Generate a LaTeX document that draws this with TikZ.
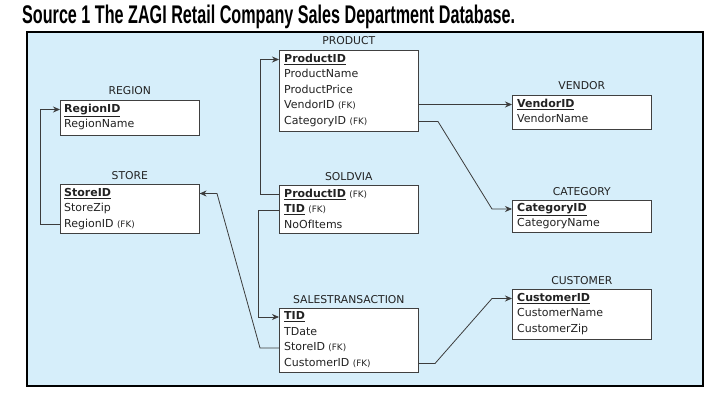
\documentclass[tikz,border=0pt]{standalone}
\usepackage{fontspec}
\usepackage{graphicx}
\newfontfamily\dv{DejaVu Sans}
\newfontfamily\ttl{Liberation Sans}
\usetikzlibrary{arrows.meta,calc}
\definecolor{bgblue}{HTML}{D6EEFA}
\definecolor{ink}{HTML}{222222}
\definecolor{lnk}{HTML}{3C3C3C}
\newcommand\pkey[1]{\textbf{\underline{#1}}}
\newcommand\fkey{ {\fontsize{8.8}{10}\selectfont(FK)}}
\begin{document}
\begin{tikzpicture}[x=1pt,y=-1pt,
 tbl/.style={draw=black!75, line width=0.6pt, fill=white, anchor=north west, inner sep=0, minimum width=139pt},
 fld/.style={anchor=west, inner sep=0, text height=7.5pt, text depth=2pt, font=\dv\fontsize{11}{12}\selectfont, text=ink},
 ttlbl/.style={anchor=base, inner sep=0, font=\dv\fontsize{10.8}{12}\selectfont, text=ink},
 conn/.style={draw=lnk, line width=0.8pt},
 arr/.style={conn, -{Stealth[length=7pt,width=6pt]}}]
\useasboundingbox (0,0) rectangle (718,404);
\draw[fill=bgblue, draw=black, line width=1.6pt] (27,32) rectangle (703,386);
\node[anchor=base west, inner sep=0] (title) at (22,23.5) {\resizebox{493pt}{18.5pt}{\ttl\bfseries Source 1 The ZAGI Retail Company Sales Department Database.}};

% PRODUCT
\node[tbl, minimum height=81pt] (product) at (279,50) {};
\node[ttlbl] (productlbl) at ($(product.north)+(0,-5)$) {PRODUCT};
\node[fld] (p1) at (284,59.5) {\pkey{ProductID}};
\node[fld] (p2) at (284,75) {ProductName};
\node[fld] (p3) at (284,90.5) {ProductPrice};
\node[fld] (p4) at (284,106) {VendorID\fkey};
\node[fld] (p5) at (284,121.5) {CategoryID\fkey};

% REGION
\node[tbl, minimum height=35pt] (region) at (60,100) {};
\node[ttlbl] (regionlbl) at ($(region.north)+(0,-5)$) {REGION};
\node[fld] (r1) at (64,109.5) {\pkey{RegionID}};
\node[fld] (r2) at (64,125) {RegionName};

% VENDOR
\node[tbl, minimum height=34pt] (vendor) at (512,95) {};
\node[ttlbl] (vendorlbl) at ($(vendor.north)+(0,-5)$) {VENDOR};
\node[fld] (v1) at (517,104.5) {\pkey{VendorID}};
\node[fld] (v2) at (517,120) {VendorName};

% STORE
\node[tbl, minimum height=49pt] (store) at (60,184) {};
\node[ttlbl] (storelbl) at ($(store.north)+(0,-5)$) {STORE};
\node[fld] (st1) at (64,193.5) {\pkey{StoreID}};
\node[fld] (st2) at (64,209) {StoreZip};
\node[fld] (st3) at (64,224.5) {RegionID\fkey};

% SOLDVIA
\node[tbl, minimum height=48pt] (soldvia) at (279,185) {};
\node[ttlbl] (soldvialbl) at ($(soldvia.north)+(0,-5)$) {SOLDVIA};
\node[fld] (sv1) at (284,194.5) {\pkey{ProductID}\fkey};
\node[fld] (sv2) at (284,210) {\pkey{TID}\fkey};
\node[fld] (sv3) at (284,225.5) {NoOfItems};

% CATEGORY
\node[tbl, minimum height=32pt] (category) at (512,200) {};
\node[ttlbl] (categorylbl) at ($(category.north)+(0,-5)$) {CATEGORY};
\node[fld] (c1) at (517,209) {\pkey{CategoryID}};
\node[fld] (c2) at (517,224) {CategoryName};

% CUSTOMER
\node[tbl, minimum height=50pt] (customer) at (512,289) {};
\node[ttlbl] (customerlbl) at ($(customer.north)+(0,-5)$) {CUSTOMER};
\node[fld] (cu1) at (517,298.5) {\pkey{CustomerID}};
\node[fld] (cu2) at (517,314) {CustomerName};
\node[fld] (cu3) at (517,329.5) {CustomerZip};

% SALESTRANSACTION
\node[tbl, minimum height=64pt] (sales) at (279,308) {};
\node[ttlbl] (saleslbl) at ($(sales.north)+(0,-5)$) {SALESTRANSACTION};
\node[fld] (t1) at (284,317) {\pkey{TID}};
\node[fld] (t2) at (284,332.5) {TDate};
\node[fld] (t3) at (284,348) {StoreID\fkey};
\node[fld] (t4) at (284,363.5) {CustomerID\fkey};

% bend coordinates
\coordinate (bR) at (40,0);
\coordinate (bA) at (260,0);
\coordinate (bB) at (258,0);
\coordinate (bC) at (438,0);
\coordinate (bD) at (492,0);
\coordinate (bE) at (217,0);
\coordinate (bF) at (435,0);

% connectors
\draw[arr] (st3 -| store.west) -- (st3 -| bR) |- (r1 -| region.west);
\draw[arr] (sv1 -| soldvia.west) -- (sv1 -| bA) |- (p1 -| product.west);
\draw[arr] (sv2 -| soldvia.west) -- (sv2 -| bB) |- (t1 -| sales.west);
\draw[arr] (v1 -| product.east) -- (v1 -| vendor.west);
\draw[arr] (p5 -| product.east) -- (p5 -| bC) -- (c1 -| bD) -- (c1 -| category.west);
\draw[arr] (t3 -| sales.west) -- (t3 -| bA) -- (st1 -| bE) -- (st1 -| store.east);
\draw[arr] (t4 -| sales.east) -- (t4 -| bF) -- (cu1 -| bD) -- (cu1 -| customer.west);
\end{tikzpicture}
\end{document}
